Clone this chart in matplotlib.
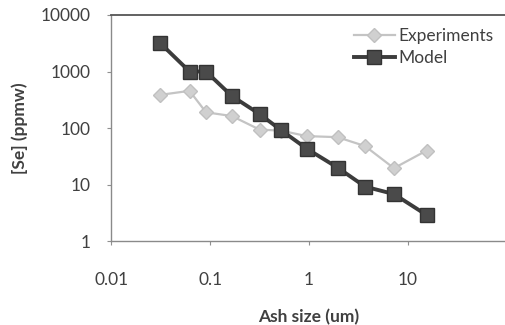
import matplotlib
matplotlib.use("Agg")
import matplotlib.pyplot as plt
from matplotlib.ticker import FixedLocator, NullLocator

sizes = [0.031, 0.062, 0.091, 0.166, 0.316, 0.52, 0.95, 1.94, 3.68, 7.2, 15.4]
experiments = [385, 455, 190, 163, 94, 90, 72, 69, 48, 19.5, 40]
model = [3240, 1000, 1000, 368, 177, 92, 43, 20, 9.2, 6.8, 2.9]
x_ticks = [0.01, 0.1, 1, 10]
x_tick_labels = ["0.01", "0.1", "1", "10"]
y_ticks = [1, 10, 100, 1000, 10000]
y_tick_labels = ["1", "10", "100", "1000", "10000"]

plt.rcParams['font.family'] = ['Lato', 'DejaVu Sans']
txt = '#404040'

fig = plt.figure(figsize=(5.05, 3.25), dpi=100)
ax = fig.add_axes([0.22, 0.258, 0.784, 0.696])

ax.plot(sizes, experiments, color='#c4c4c4', lw=1.6, marker='D', markersize=7,
        markerfacecolor='#d0d0d0', markeredgecolor='#c0c0c0', label='Experiments', zorder=2)
ax.plot(sizes, model, color='#3c3c3c', lw=2.8, marker='s', markersize=10,
        markerfacecolor='#4a4a4a', markeredgecolor='#333333', label='Model', zorder=3)

ax.set_xscale('log')
ax.set_yscale('log')
ax.set_xlim(0.01, 100)
ax.set_ylim(1, 10000)
ax.xaxis.set_major_locator(FixedLocator(x_ticks))
ax.xaxis.set_minor_locator(NullLocator())
ax.yaxis.set_major_locator(FixedLocator(y_ticks))
ax.yaxis.set_minor_locator(NullLocator())
ax.set_xticklabels(x_tick_labels)
ax.set_yticklabels(y_tick_labels)
ax.tick_params(axis='x', length=3, color='#909090', pad=19, labelsize=12.5, labelcolor=txt)
ax.tick_params(axis='y', length=3, color='#909090', pad=12, labelsize=12.5, labelcolor=txt)

ax.spines['right'].set_visible(False)
ax.spines['top'].set_color('#555555')
ax.spines['top'].set_linewidth(1.3)
for s in ['left', 'bottom']:
    ax.spines[s].set_color('#8a8a8a')
    ax.spines[s].set_linestyle((0, (1, 1)))
    ax.spines[s].set_linewidth(1.0)

ax.set_xlabel('Ash size (um)', fontsize=12.5, fontweight='bold', color=txt, labelpad=15)
ax.set_ylabel('[Se] (ppmw)', fontsize=12.5, fontweight='bold', color=txt, labelpad=9)

leg = ax.legend(loc='upper right', bbox_to_anchor=(0.993, 0.99), frameon=False,
                fontsize=12.5, handlelength=2.4, handletextpad=0.2, labelspacing=0.35,
                borderaxespad=0.2)
for t in leg.get_texts():
    t.set_color(txt)

fig.savefig('out.png', dpi=100)
